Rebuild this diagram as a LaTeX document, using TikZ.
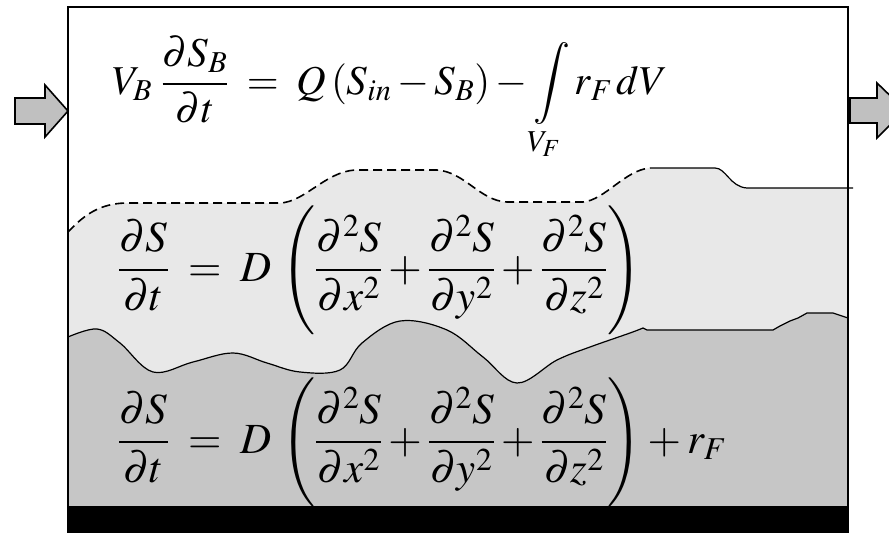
\documentclass[tikz,border=0pt]{standalone}
\usepackage{amsmath}
\usepackage{mathptmx}
\usepackage{tikz}
\definecolor{toplayer}{HTML}{E8E8E8}
\definecolor{lowlayer}{HTML}{C6C6C6}
\definecolor{flowgray}{HTML}{C0C0C0}
\tikzset{
  eqn/.style={anchor=base west, inner sep=0pt},
  flowarrow/.style={draw=black, fill=flowgray, line width=1.6pt, line join=miter},
  layerline/.style={black, line width=1.2pt}
}

\begin{document}
\begin{tikzpicture}[x=1pt,y=-1pt]
\clip (0,0) rectangle (889,533);
\fill[white] (0,0) rectangle (889,533);
\fill[toplayer] (68,232) .. controls (85,214) and (100,204) .. (125,203) -- (280,203)
  .. controls (305,202) and (325,172) .. (355,170) -- (437,170)
  .. controls (465,172) and (480,201) .. (507,202) -- (583,202)
  .. controls (605,200) and (625,170) .. (650,168) -- (715,168)
  .. controls (726,168) and (730,187) .. (747,188) -- (848,188) -- (848,507) -- (68,507) -- cycle;
\draw[layerline, line width=1.6pt, dash pattern=on 9pt off 5pt] (68,232) .. controls (85,214) and (100,204) .. (125,203) -- (280,203)
  .. controls (305,202) and (325,172) .. (355,170) -- (437,170)
  .. controls (465,172) and (480,201) .. (507,202) -- (583,202)
  .. controls (605,200) and (625,170) .. (650,168);
\draw[layerline] (650,168) -- (715,168) .. controls (726,168) and (730,187) .. (747,188) -- (853,188);
\draw[layerline, fill=lowlayer] plot[smooth, tension=0.6] coordinates {(68,337) (97,329) (120,343) (153,372) (193,362) (233,353) (267,363) (300,372) (340,370) (362,343) (400,321) (447,330) (483,357) (517,383) (557,360) (590,347) (630,333) (643,328)}
  -- (647,330) -- (773,330) -- (780,326) -- (790,321) -- (798,318) -- (807,313) -- (833,313) -- (848,318)
  -- (848,507) -- (68,507) -- cycle;
\fill[black] (67,506) rectangle (849,533);
\draw[line width=2pt] (68,7) rectangle (848,507);
\draw[flowarrow] (15,98) -- (45,98) -- (45,85) -- (68,111) -- (45,137) -- (45,124) -- (15,124) -- cycle;
\draw[flowarrow] (850,98) -- (877,98) -- (877,83) -- (905,110) -- (877,138) -- (877,123) -- (850,123) -- cycle;
\node[eqn, font=\fontsize{41}{45}\selectfont] (balance) at (112,94)
  {$\displaystyle V_B\;\frac{\partial S_B}{\partial t}\;=\;Q\left(S_{in}-S_B\right)-\int\limits_{V_F} r_F\,dV$};
\node[eqn, font=\fontsize{43}{47}\selectfont] (diffusion) at (118,281)
  {$\displaystyle \frac{\partial S}{\partial t}\;=\;D\,\left(\frac{\partial^2 S}{\partial x^2}+\frac{\partial^2 S}{\partial y^2}+\frac{\partial^2 S}{\partial z^2}\right)$};
\node[eqn, font=\fontsize{43}{47}\selectfont] (reaction) at (118,453)
  {$\displaystyle \frac{\partial S}{\partial t}\;=\;D\,\left(\frac{\partial^2 S}{\partial x^2}+\frac{\partial^2 S}{\partial y^2}+\frac{\partial^2 S}{\partial z^2}\right)+r_F$};
\end{tikzpicture}
\end{document}
